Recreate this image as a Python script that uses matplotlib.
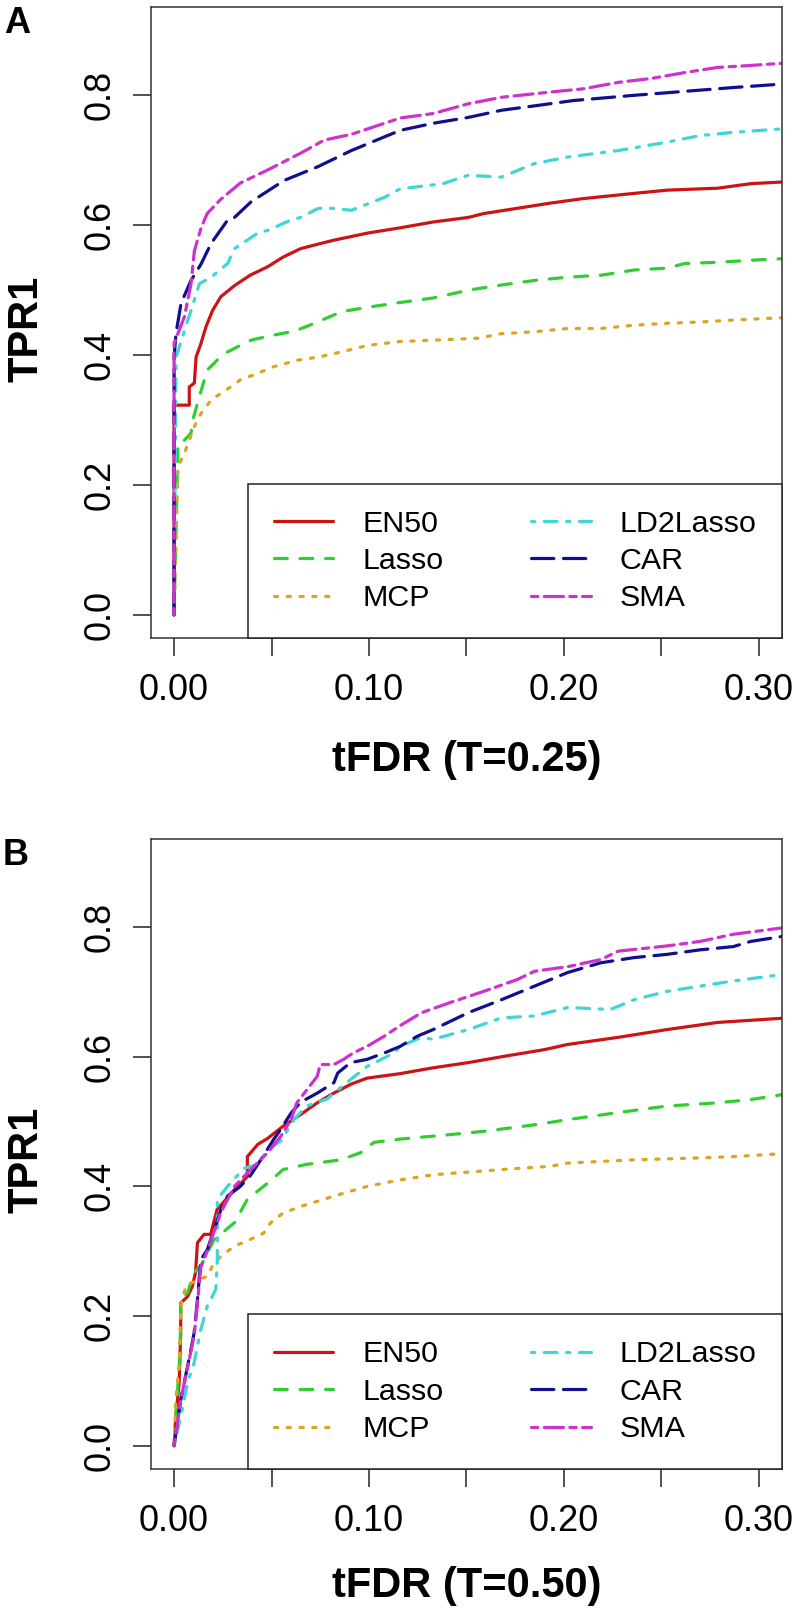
import matplotlib
matplotlib.use('Agg')
import matplotlib.pyplot as plt

plt.rcParams['font.family'] = ['Liberation Sans', 'DejaVu Sans']

# ---------------- data ----------------
methods = ['EN50', 'Lasso', 'MCP', 'LD2Lasso', 'CAR', 'SMA']
colors = ['#CC1414', '#32CD32', '#DAA520', '#3FD6D6', '#10108E', '#CC33CC']
dash_patterns = [None, (4, 4), (1, 3), (1, 3, 4, 3), (7, 3), (2, 2, 6, 2)]

x_ticks = [0.0, 0.05, 0.10, 0.15, 0.20, 0.25, 0.30]
x_ticklabels = ['0.00', '', '0.10', '', '0.20', '', '0.30']
y_ticks = [0.0, 0.2, 0.4, 0.6, 0.8]
y_ticklabels = ['0.0', '0.2', '0.4', '0.6', '0.8']

# Panel A (T = 0.25)
en50_a_x = [0, 0, 0.0078, 0.0078, 0.0104, 0.0113, 0.0138, 0.0164, 0.0198, 0.024, 0.031, 0.039, 0.048, 0.056,
            0.065, 0.074, 0.082, 0.0995, 0.116, 0.133, 0.151, 0.159, 0.176, 0.193, 0.21, 0.236, 0.253, 0.279,
            0.296, 0.315]
en50_a_y = [0, 0.323, 0.323, 0.351, 0.357, 0.397, 0.418, 0.444, 0.469, 0.49, 0.507, 0.523, 0.536, 0.551,
            0.564, 0.571, 0.577, 0.588, 0.596, 0.605, 0.612, 0.618, 0.626, 0.634, 0.641, 0.649, 0.654, 0.657,
            0.664, 0.667]
lasso_a_x = [0, 0.002, 0.0053, 0.0087, 0.0096, 0.012, 0.017, 0.022, 0.0275, 0.034, 0.0395, 0.048, 0.062, 0.072,
             0.086, 0.1, 0.116, 0.133, 0.151, 0.168, 0.185, 0.202, 0.219, 0.236, 0.253, 0.262, 0.279, 0.296, 0.315]
lasso_a_y = [0, 0.265, 0.269, 0.28, 0.30, 0.326, 0.377, 0.392, 0.405, 0.415, 0.423, 0.429, 0.437, 0.449,
             0.467, 0.474, 0.481, 0.488, 0.5, 0.508, 0.515, 0.52, 0.523, 0.531, 0.534, 0.541, 0.543, 0.546, 0.549]
mcp_a_x = [0, 0.002, 0.0053, 0.0104, 0.0138, 0.019, 0.024, 0.031, 0.034, 0.043, 0.051, 0.063, 0.074, 0.086,
           0.0995, 0.116, 0.133, 0.156, 0.168, 0.185, 0.202, 0.219, 0.236, 0.253, 0.27, 0.287, 0.315]
mcp_a_y = [0, 0.228, 0.249, 0.29, 0.31, 0.331, 0.341, 0.355, 0.362, 0.372, 0.382, 0.392, 0.397, 0.405,
           0.415, 0.421, 0.423, 0.426, 0.433, 0.436, 0.441, 0.441, 0.446, 0.449, 0.451, 0.454, 0.458]
ld2_a_x = [0, 0.001, 0.0087, 0.013, 0.019, 0.0275, 0.031, 0.043, 0.048, 0.06, 0.065, 0.074, 0.082, 0.091,
           0.108, 0.116, 0.138, 0.151, 0.168, 0.185, 0.202, 0.228, 0.253, 0.27, 0.287, 0.315]
ld2_a_y = [0, 0.397, 0.469, 0.51, 0.52, 0.541, 0.564, 0.588, 0.592, 0.608, 0.612, 0.626, 0.626, 0.623,
           0.643, 0.656, 0.664, 0.677, 0.674, 0.695, 0.705, 0.715, 0.728, 0.738, 0.743, 0.749]
car_a_x = [0, 0, 0.001, 0.0036, 0.0087, 0.0138, 0.019, 0.0275, 0.031, 0.0395, 0.0565, 0.0737, 0.091, 0.116,
           0.133, 0.151, 0.168, 0.188, 0.205, 0.236, 0.27, 0.287, 0.315]
car_a_y = [0, 0.397, 0.434, 0.48, 0.515, 0.54, 0.572, 0.608, 0.612, 0.636, 0.669, 0.69, 0.715, 0.746,
           0.757, 0.766, 0.777, 0.785, 0.792, 0.80, 0.808, 0.812, 0.818]
sma_a_x = [0, 0, 0.0053, 0.0087, 0.0104, 0.012, 0.014, 0.017, 0.024, 0.034, 0.048, 0.065, 0.077, 0.091,
           0.116, 0.133, 0.151, 0.168, 0.193, 0.21, 0.228, 0.245, 0.262, 0.279, 0.296, 0.315]
sma_a_y = [0, 0.418, 0.459, 0.51, 0.56, 0.577, 0.597, 0.618, 0.640, 0.665, 0.685, 0.711, 0.731, 0.740,
           0.765, 0.772, 0.787, 0.797, 0.805, 0.81, 0.82, 0.826, 0.835, 0.843, 0.846, 0.85]

# Panel B (T = 0.50)
en50_b_x = [0, 0.0009, 0.0026, 0.0034, 0.0034, 0.0069, 0.0094, 0.011, 0.012, 0.0154, 0.0188, 0.022, 0.031,
            0.0376, 0.0376, 0.043, 0.048, 0.056, 0.065, 0.0735, 0.082, 0.091, 0.099, 0.116, 0.133, 0.151,
            0.168, 0.19, 0.202, 0.228, 0.253, 0.279, 0.315]
en50_b_y = [0, 0.045, 0.097, 0.174, 0.22, 0.23, 0.246, 0.267, 0.313, 0.326, 0.326, 0.364, 0.395,
            0.415, 0.446, 0.465, 0.474, 0.493, 0.511, 0.529, 0.544, 0.558, 0.567, 0.574, 0.583, 0.591,
            0.60, 0.611, 0.619, 0.63, 0.642, 0.653, 0.66]
lasso_b_x = [0, 0.0009, 0.0026, 0.0034, 0.0034, 0.0069, 0.0103, 0.0137, 0.0205, 0.031, 0.0376, 0.048, 0.056,
             0.068, 0.0855, 0.0957, 0.1026, 0.116, 0.142, 0.159, 0.185, 0.202, 0.228, 0.253, 0.279, 0.296, 0.315]
lasso_b_y = [0, 0.045, 0.122, 0.184, 0.225, 0.236, 0.267, 0.277, 0.318, 0.344, 0.38, 0.405, 0.426,
             0.434, 0.441, 0.452, 0.468, 0.473, 0.48, 0.485, 0.495, 0.503, 0.514, 0.524, 0.529, 0.534, 0.543]
mcp_b_x = [0, 0.0009, 0.0026, 0.0034, 0.006, 0.012, 0.017, 0.0205, 0.024, 0.031, 0.039, 0.046, 0.0496, 0.056,
           0.065, 0.082, 0.099, 0.116, 0.133, 0.168, 0.193, 0.202, 0.236, 0.27, 0.287, 0.315]
mcp_b_y = [0, 0.071, 0.122, 0.215, 0.246, 0.256, 0.261, 0.282, 0.292, 0.308, 0.318, 0.328, 0.344, 0.359,
           0.369, 0.385, 0.40, 0.41, 0.418, 0.426, 0.431, 0.436, 0.441, 0.444, 0.446, 0.451]
ld2_b_x = [0, 0.0034, 0.0069, 0.0103, 0.0137, 0.017, 0.0214, 0.0222, 0.0222, 0.0274, 0.036, 0.043, 0.048,
           0.0547, 0.0615, 0.068, 0.0787, 0.082, 0.0906, 0.099, 0.113, 0.116, 0.127, 0.133, 0.151, 0.168,
           0.185, 0.202, 0.224, 0.236, 0.253, 0.27, 0.287, 0.315]
ld2_b_y = [0, 0.045, 0.097, 0.128, 0.179, 0.215, 0.241, 0.287, 0.38, 0.40, 0.428, 0.434, 0.457,
           0.47, 0.503, 0.524, 0.535, 0.544, 0.565, 0.585, 0.606, 0.616, 0.63, 0.627, 0.642, 0.66,
           0.663, 0.676, 0.673, 0.688, 0.701, 0.709, 0.717, 0.728]
car_b_x = [0, 0.0034, 0.0069, 0.0103, 0.012, 0.0137, 0.017, 0.0205, 0.024, 0.0274, 0.034, 0.039, 0.0445,
           0.051, 0.0547, 0.06, 0.065, 0.0735, 0.082, 0.084, 0.0906, 0.099, 0.108, 0.116, 0.125, 0.133,
           0.151, 0.168, 0.185, 0.202, 0.219, 0.236, 0.253, 0.27, 0.287, 0.296, 0.315]
car_b_y = [0, 0.071, 0.122, 0.174, 0.225, 0.287, 0.302, 0.333, 0.364, 0.385, 0.40, 0.416, 0.441,
           0.472, 0.488, 0.513, 0.53, 0.544, 0.56, 0.575, 0.591, 0.596, 0.606, 0.616, 0.632, 0.642,
           0.668, 0.688, 0.709, 0.73, 0.745, 0.753, 0.758, 0.765, 0.77, 0.778, 0.787]
sma_b_x = [0, 0.0034, 0.0069, 0.0103, 0.012, 0.0137, 0.017, 0.0205, 0.024, 0.031, 0.039, 0.048, 0.0547,
           0.06, 0.063, 0.0735, 0.075, 0.082, 0.087, 0.092, 0.099, 0.108, 0.116, 0.127, 0.142, 0.159,
           0.176, 0.185, 0.202, 0.219, 0.228, 0.253, 0.27, 0.287, 0.315]
sma_b_y = [0, 0.07, 0.12, 0.17, 0.22, 0.275, 0.30, 0.33, 0.36, 0.40, 0.425, 0.452, 0.477,
           0.503, 0.529, 0.57, 0.588, 0.588, 0.596, 0.606, 0.616, 0.632, 0.648, 0.668, 0.684, 0.701,
           0.719, 0.732, 0.739, 0.75, 0.763, 0.771, 0.778, 0.789, 0.80]

panel_a = [(en50_a_x, en50_a_y), (lasso_a_x, lasso_a_y), (mcp_a_x, mcp_a_y),
           (ld2_a_x, ld2_a_y), (car_a_x, car_a_y), (sma_a_x, sma_a_y)]
panel_b = [(en50_b_x, en50_b_y), (lasso_b_x, lasso_b_y), (mcp_b_x, mcp_b_y),
           (ld2_b_x, ld2_b_y), (car_b_x, car_b_y), (sma_b_x, sma_b_y)]

# ---------------- figure ----------------
W, H = 797, 1617
fig = plt.figure(figsize=(W / 100, H / 100), dpi=100)
fig.patch.set_facecolor('white')

axA = fig.add_axes([150.7 / W, 1 - 638.3 / H, 631.3 / W, 631.3 / H])
axB = fig.add_axes([150.7 / W, 1 - 1469 / H, 631.3 / W, 630 / H])

LW = 2.3


def draw_panel(ax, series, xlabel, xlabel_y):
    for (xs, ys), name, col, dp in zip(series, methods, colors, dash_patterns):
        if dp is None:
            ax.plot(xs, ys, color=col, lw=LW, linestyle='-', solid_capstyle='round',
                    solid_joinstyle='round', label=name)
        else:
            ax.plot(xs, ys, color=col, lw=LW, linestyle=(0, dp), dash_capstyle='round',
                    dash_joinstyle='round', label=name)
    ax.set_xlim(-0.012, 0.312)
    ax.set_ylim(-0.036, 0.936)
    ax.set_xticks(x_ticks)
    ax.set_xticklabels(x_ticklabels)
    ax.set_yticks(y_ticks)
    ax.set_yticklabels(y_ticklabels)
    for sp in ax.spines.values():
        sp.set_color('#333333')
        sp.set_linewidth(1.1)
    ax.tick_params(axis='both', direction='out', length=13, width=1.1, color='#222222',
                   labelsize=26, labelcolor='black')
    ax.tick_params(axis='x', pad=12)
    ax.tick_params(axis='y', pad=11, labelrotation=90)
    for t in ax.get_yticklabels():
        t.set_va('center')

    ax.set_xlabel(xlabel, fontsize=30, fontweight='bold')
    ax.xaxis.set_label_coords(0.5, xlabel_y)
    ax.xaxis.label.set_va('baseline')
    ax.set_ylabel('TPR1', fontsize=30, fontweight='bold')
    ax.yaxis.set_label_coords(-0.1786, 0.49)
    ax.yaxis.label.set_va('baseline')

    leg = ax.legend(ncol=2, loc='lower right', bbox_to_anchor=(1, 0), borderaxespad=0,
                    fontsize=21.9, frameon=True, fancybox=False, framealpha=1,
                    edgecolor='#222222', handlelength=1.97, handletextpad=0.94,
                    columnspacing=2.88, labelspacing=0.31, borderpad=0.85)
    leg.get_frame().set_linewidth(1.1)


draw_panel(axA, panel_a, 'tFDR (T=0.25)', -0.2108)
draw_panel(axB, panel_b, 'tFDR (T=0.50)', -0.203)

fig.text(17 / W, 1 - 33 / H, 'A', fontsize=26, fontweight='bold', ha='center', va='baseline')
fig.text(16 / W, 1 - 865 / H, 'B', fontsize=26, fontweight='bold', ha='center', va='baseline')

fig.savefig('out.png', dpi=100)
